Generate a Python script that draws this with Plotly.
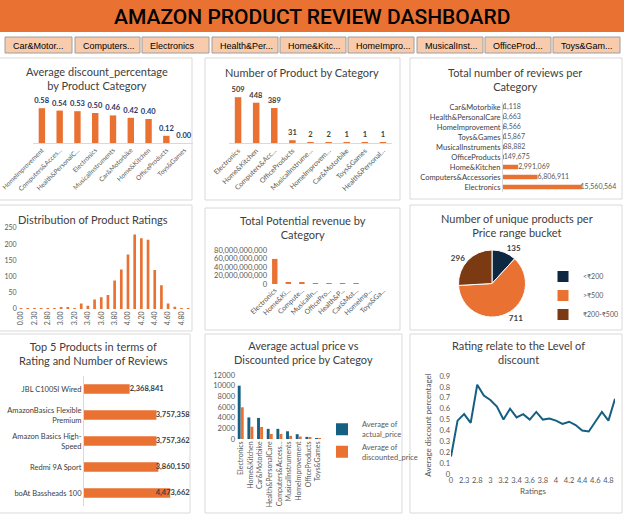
import plotly.graph_objects as go

W, H = 624, 516
ORANGE = '#E97132'
BLUE = '#156082'
NAVY = '#0E2841'
BROWN = '#7B3A12'
GRAY = '#595959'
DARK = '#404040'
FONT = 'Lato'

# ---------------- data ----------------
slicer_labels = ["Car&Motor...", "Computers...", "Electronics", "Health&Per...", "Home&Kitc...",
                 "HomeImpro...", "MusicalInst...", "OfficeProd...", "Toys&Gam..."]

disc_cats = ["HomeImprovement", "Computers&Acces...", "Health&PersonalC...", "Electronics",
             "MusicalInstruments", "Car&Motorbike", "Home&Kitchen", "OfficeProducts", "Toys&Games"]
disc_vals = [0.58, 0.54, 0.53, 0.50, 0.46, 0.42, 0.40, 0.12, 0.00]

count_cats = ["Electronics", "Home&Kitchen", "Computers&Acc...", "OfficeProducts", "MusicalInstrume...",
              "HomeImprovem...", "Car&Motorbike", "Toys&Games", "Health&Personal..."]
count_vals = [509, 448, 389, 31, 2, 2, 1, 1, 1]

review_cats = ["Car&Motorbike", "Health&PersonalCare", "HomeImprovement", "Toys&Games",
               "MusicalInstruments", "OfficeProducts", "Home&Kitchen", "Computers&Accessories", "Electronics"]
review_vals = [1118, 3663, 8566, 15867, 88882, 149675, 2991069, 6806911, 15560564]

rating_cats = ["0", "2", "2.3", "2.6", "2.8", "2.9", "3", "3.1", "3.2", "3.3", "3.4", "3.5", "3.6",
               "3.7", "3.8", "3.9", "4", "4.1", "4.2", "4.3", "4.4", "4.5", "4.6", "4.7", "4.8", "5"]
rating_counts = [2, 2, 2, 2, 2, 2, 5, 5, 3, 17, 10, 29, 36, 43, 88, 122, 168, 230, 218, 214, 120, 73, 17, 7, 2, 2]
rating_disc = [0.16, 0.49, 0.55, 0.47, 0.82, 0.72, 0.68, 0.62, 0.50, 0.60, 0.52, 0.55, 0.50, 0.57,
               0.50, 0.51, 0.49, 0.46, 0.48, 0.45, 0.40, 0.39, 0.48, 0.57, 0.49, 0.69]

rev_cats = ["Electronics", "Home&Ki...", "Compute...", "MusicalIn...", "OfficePro...", "Health&P...",
            "Car&Mot...", "HomeImp...", "Toys&Ga..."]
rev_vals = [59e9, 4.5e9, 3.5e9, 0.3e9, 0.08e9, 0.04e9, 0.02e9, 0.01e9, 0.005e9]

bucket_labels = ["<₹200", ">₹500", "₹200-₹500"]
bucket_vals = [135, 711, 296]

top_names = ["JBL C100SI Wired", "AmazonBasics Flexible<br>Premium", "Amazon Basics High-<br>Speed",
             "Redmi 9A Sport", "boAt Bassheads 100"]
top_vals = [2368841, 3757358, 3757362, 3860150, 4473662]

price_cats = ["Electronics", "Home&Kitchen", "Car&Motorbike", "Health&PersonalCare", "Computers&Access...",
              "MusicalInstruments", "HomeImprovement", "OfficeProducts", "Toys&Games"]
actual_price = [10000, 4050, 3950, 1900, 1900, 1450, 900, 400, 150]
discounted_price = [5950, 2300, 2250, 950, 950, 600, 450, 300, 120]


# ---------------- helpers ----------------
def dx(a, b):
    return [a / W, b / W]


def dy(top, bot):
    return [1 - bot / H, 1 - top / H]


def px(x):
    return x / W


def py(y):
    return 1 - y / H


tickf = dict(family=FONT, size=7, color=GRAY)

fig = go.Figure()

# Panel 1: average discount
fig.add_trace(go.Bar(x=disc_cats, y=disc_vals, xaxis='x', yaxis='y', marker_color=ORANGE, width=0.36,
                     texttemplate='%{y:.2f}', textposition='outside', cliponaxis=False, constraintext='none',
                     textfont=dict(family=FONT, size=7.5, color='#1F3864', weight='bold'), showlegend=False))
# Panel 2: number of products
fig.add_trace(go.Bar(x=count_cats, y=count_vals, xaxis='x2', yaxis='y2', marker_color=ORANGE, width=0.36,
                     texttemplate='%{y}', textposition='outside', cliponaxis=False, constraintext='none',
                     textfont=dict(family=FONT, size=7.5, color=DARK, weight='bold'), showlegend=False))
# Panel 3: total reviews (labels kept inside the plot area like Excel does)
fig.add_trace(go.Bar(x=review_vals, y=review_cats, orientation='h', xaxis='x3', yaxis='y3',
                     marker_color=ORANGE, width=0.45, showlegend=False))
fig.add_trace(go.Scatter(x=[min(v, 15.3e6) for v in review_vals], y=review_cats, xaxis='x3', yaxis='y3',
                         mode='text', text=[f"{v:,}" for v in review_vals], textposition='middle right',
                         cliponaxis=False, textfont=dict(family=FONT, size=7, color=GRAY), showlegend=False))
# Panel 4: distribution of ratings
fig.add_trace(go.Bar(x=rating_cats, y=rating_counts, xaxis='x4', yaxis='y4', marker_color=ORANGE,
                     width=0.4, showlegend=False))
# Panel 5: potential revenue
fig.add_trace(go.Bar(x=rev_cats, y=rev_vals, xaxis='x5', yaxis='y5', marker_color=ORANGE, width=0.4,
                     showlegend=False))
# Panel 6: pie
fig.add_trace(go.Pie(labels=bucket_labels, values=bucket_vals, sort=False, direction='clockwise', rotation=0,
                     marker=dict(colors=[NAVY, ORANGE, BROWN], line=dict(color='white', width=1)),
                     textinfo='value', textposition='outside',
                     textfont=dict(family=FONT, size=8, color=DARK, weight='bold'),
                     domain=dict(x=dx(457, 527), y=dy(250, 317)), legend='legend2', showlegend=True))
# Panel 7: top 5 products
fig.add_trace(go.Bar(x=top_vals, y=top_names, orientation='h', xaxis='x7', yaxis='y7', marker_color=ORANGE,
                     width=0.36, showlegend=False))
fig.add_trace(go.Scatter(x=[min(v, 3.72e6) for v in top_vals], y=top_names, xaxis='x7', yaxis='y7',
                         mode='text', text=[f"{v:,}" for v in top_vals], textposition='middle right',
                         cliponaxis=False, textfont=dict(family=FONT, size=7.5, color=DARK, weight='bold'),
                         showlegend=False))
# Panel 8: actual vs discounted price
fig.add_trace(go.Bar(x=price_cats, y=actual_price, xaxis='x8', yaxis='y8', marker_color=BLUE,
                     width=0.3, offset=-0.32, name='Average of<br>actual_price', legend='legend'))
fig.add_trace(go.Bar(x=price_cats, y=discounted_price, xaxis='x8', yaxis='y8', marker_color=ORANGE,
                     width=0.3, offset=0.0, name='Average of<br>discounted_price', legend='legend'))
# Panel 9: rating vs discount line
fig.add_trace(go.Scatter(x=rating_cats, y=rating_disc, xaxis='x9', yaxis='y9', mode='lines',
                         line=dict(color=BLUE, width=2), showlegend=False))

# ---------------- axes ----------------
cat_x = dict(type='category', tickfont=tickf, showgrid=False, zeroline=False, ticks='', fixedrange=True,
             automargin=False)
noam = dict(automargin=False)
lay = {}
lay['xaxis'] = dict(cat_x, domain=dx(33, 193), anchor='y', tickangle=-45, showline=True, linecolor='#D9D9D9',
                    tickfont=dict(family=FONT, size=6.5, color=GRAY))
lay['yaxis'] = dict(noam, domain=dy(101, 143), anchor='x', range=[0, 0.7], visible=False)
lay['xaxis2'] = dict(cat_x, domain=dx(229, 392), anchor='y2', tickangle=-45, showline=True, linecolor='#D9D9D9')
lay['yaxis2'] = dict(noam, domain=dy(89, 143), anchor='x2', range=[0, 600], visible=False)
lay['xaxis3'] = dict(noam, domain=dx(503, 612), anchor='y3', range=[0, 21.5e6], visible=False)
lay['yaxis3'] = dict(noam, type='category', domain=dy(102, 192), anchor='x3', autorange='reversed',
                     tickfont=dict(family=FONT, size=7.5, color=DARK), showline=True, linecolor='#D9D9D9',
                     ticks='', showgrid=False)
lay['xaxis4'] = dict(cat_x, domain=dx(17.7, 191.5), anchor='y4', tickangle=-90,
                     tickvals=rating_cats[::2], ticktext=[f"{float(c):.2f}" for c in rating_cats[::2]])
lay['yaxis4'] = dict(noam, domain=dy(228, 309), anchor='x4', range=[0, 250], dtick=50, tickfont=tickf,
                     showgrid=False, zeroline=False, ticks='')
lay['xaxis5'] = dict(cat_x, domain=dx(268, 390), anchor='y5', tickangle=-45)
lay['yaxis5'] = dict(noam, domain=dy(250, 284), anchor='x5', range=[0, 80e9], dtick=20e9, tickformat=',.0f',
                     tickfont=dict(family=FONT, size=7.5, color=GRAY), showgrid=False, zeroline=False, ticks='')
lay['xaxis7'] = dict(noam, domain=dx(84, 190), anchor='y7', range=[0, 5.5e6], visible=False)
lay['yaxis7'] = dict(noam, type='category', domain=dy(376, 506), anchor='x7', autorange='reversed',
                     tickfont=dict(family=FONT, size=7.5, color=DARK), showline=True, linecolor='#D9D9D9',
                     ticks='', showgrid=False)
lay['xaxis8'] = dict(cat_x, domain=dx(236, 323), anchor='y8', tickangle=-90)
lay['yaxis8'] = dict(noam, domain=dy(375, 439), anchor='x8', range=[0, 12000], dtick=2000, tickformat='d',
                     tickfont=dict(family=FONT, size=7.5, color=GRAY), showgrid=False, zeroline=False, ticks='')
lay['xaxis9'] = dict(cat_x, domain=dx(451, 615), anchor='y9', tickangle=0, tickvals=rating_cats[::2],
                     tickfont=dict(family=FONT, size=7.5, color=GRAY),
                     title=dict(text='Ratings', font=dict(family=FONT, size=8, color=GRAY), standoff=4))
lay['yaxis9'] = dict(noam, domain=dy(376, 474), anchor='x9', range=[0, 0.9], dtick=0.1,
                     tickfont=dict(family=FONT, size=7.5, color=GRAY), showgrid=False, zeroline=False, ticks='',
                     title=dict(text='Average discount percentagel', font=dict(family=FONT, size=8, color=GRAY),
                                standoff=6))

# ---------------- shapes ----------------
shapes = []
annotations = []
# title bar
shapes.append(dict(type='rect', xref='paper', yref='paper', x0=0, x1=1, y0=py(32), y1=1,
                   fillcolor=ORANGE, line=dict(width=0), layer='below'))
# slicer buttons
slicer_x = [(5, 72), (75, 140), (142, 209), (212, 278), (280, 346), (348, 414), (417, 483), (485, 551), (553, 620)]
for (a, b), lab in zip(slicer_x, slicer_labels):
    shapes.append(dict(type='rect', xref='paper', yref='paper', x0=px(a), x1=px(b), y0=py(53), y1=py(37),
                       fillcolor='#F8CBAD', line=dict(color='#9E9E9E', width=1), layer='below'))
    annotations.append(dict(text=lab, xref='paper', yref='paper', x=px(a + 6), y=py(45.5),
                            xanchor='left', yanchor='middle', showarrow=False,
                            font=dict(family='Liberation Sans Narrow, Liberation Sans', size=9, color='#000')))
# panel borders
panels = [(-3, 58, 192, 200), (205, 58, 400, 200), (410, 58, 622, 199),
          (-3, 205, 192, 331), (205, 208, 400, 330), (410, 205, 622, 330),
          (-3, 334, 190, 513), (205, 334, 402, 513), (410, 334, 622, 513)]
for (a, t, b, bt) in panels:
    shapes.append(dict(type='rect', xref='paper', yref='paper', x0=px(a), x1=px(b), y0=py(bt), y1=py(t),
                       fillcolor='white', line=dict(color='#D9D9D9', width=1), layer='below'))

# ---------------- titles ----------------
annotations.append(dict(text='AMAZON PRODUCT REVIEW DASHBOARD', xref='paper', yref='paper', x=px(312), y=py(17),
                        xanchor='center', yanchor='middle', showarrow=False,
                        font=dict(family='Roboto', size=21, color='#000', weight=500)))
titles = [
    ("Average discount_percentage<br>by Product Category", 97, 78),
    ("Number of Product by Category", 302, 72),
    ("Total number of reviews per<br>Category", 515, 79),
    ("Distribution of Product Ratings", 93, 219),
    ("Total Potential revenue by<br>Category", 303, 227),
    ("Number of unique products per<br>Price range bucket", 517, 225),
    ("Top 5 Products in terms of<br>Rating and Number of Reviews", 93, 353),
    ("Average actual price vs<br>Discounted price by Categoy", 303, 352),
    ("Rating relate to the Level of<br>discount", 518, 352),
]
for t, x, y in titles:
    annotations.append(dict(text=t, xref='paper', yref='paper', x=px(x), y=py(y), showarrow=False,
                            xanchor='center', yanchor='middle',
                            font=dict(family=FONT, size=11, color=DARK)))

fig.update_layout(
    template='none',
    width=W, height=H, margin=dict(l=0, r=0, t=0, b=0, autoexpand=False),
    paper_bgcolor='white', plot_bgcolor='rgba(0,0,0,0)',
    font=dict(family=FONT, color=GRAY),
    shapes=shapes, annotations=annotations,
    legend=dict(x=px(322), y=py(413), xanchor='left', yanchor='top', bgcolor='rgba(0,0,0,0)',
                font=dict(family=FONT, size=7.5, color=GRAY), itemwidth=30, tracegroupgap=4),
    legend2=dict(x=1, y=py(262), xanchor='right', yanchor='top', bgcolor='rgba(0,0,0,0)',
                 font=dict(family=FONT, size=7, color=GRAY), itemwidth=30),
    **lay,
)

fig.write_html("out.html")
